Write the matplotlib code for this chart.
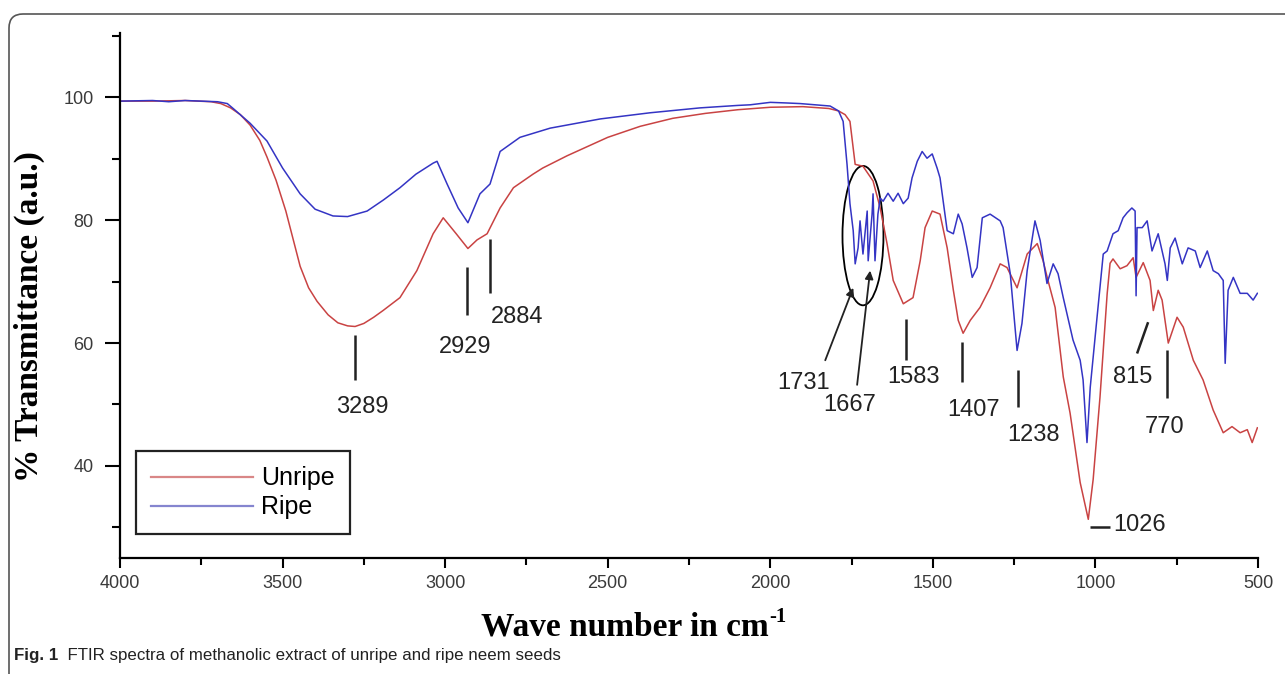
import numpy as np
import matplotlib
matplotlib.use("Agg")
import matplotlib.pyplot as plt
from matplotlib.patches import Ellipse, FancyBboxPatch
from matplotlib.transforms import IdentityTransform

# FTIR spectra (wavenumber in cm-1, % transmittance)
unripe_wn = [4000, 3900, 3800, 3720, 3690, 3660, 3630, 3600, 3570, 3548,
             3520, 3490, 3446, 3420, 3394, 3360, 3330, 3300, 3277, 3250,
             3220, 3191, 3139, 3087, 3037, 3006, 2966, 2930, 2902, 2871,
             2831, 2790, 2730, 2700, 2625, 2500, 2400, 2300, 2200, 2100,
             2000, 1900, 1820, 1790, 1770, 1755, 1739, 1715, 1684, 1662,
             1641, 1622, 1591, 1561, 1539, 1524, 1502, 1478, 1456, 1437,
             1422, 1407, 1385, 1355, 1324, 1293, 1272, 1241, 1210, 1179,
             1161, 1146, 1124, 1099, 1078, 1047, 1022, 1007, 986, 964,
             955, 946, 924, 903, 884, 875, 853, 832, 822, 807,
             795, 776, 749, 730, 699, 669, 638, 607, 580, 555,
             533, 518, 502]
unripe_t = [99.4, 99.4, 99.5, 99.3, 99.0, 98.3, 97.2, 95.5, 93.0, 90.3,
            86.5, 81.5, 72.5, 69.0, 66.8, 64.6, 63.3, 62.8, 62.7, 63.2,
            64.2, 65.3, 67.4, 71.8, 77.8, 80.4, 77.8, 75.4, 76.8, 77.8,
            82.0, 85.3, 87.5, 88.5, 90.5, 93.5, 95.3, 96.6, 97.4, 98.0,
            98.4, 98.5, 98.2, 97.8, 97.2, 96.1, 89.1, 88.8, 86.4, 82.0,
            76.2, 70.2, 66.4, 67.4, 73.4, 78.8, 81.5, 81.0, 75.5, 68.6,
            63.7, 61.6, 63.7, 65.8, 69.0, 72.9, 72.3, 69.0, 74.5, 76.2,
            73.4, 70.2, 65.8, 54.5, 48.6, 37.3, 31.3, 37.8, 51.2, 68.0,
            73.0, 73.7, 72.1, 72.6, 73.9, 70.7, 73.1, 70.2, 65.3, 68.6,
            67.0, 60.0, 64.2, 62.6, 57.2, 54.0, 49.1, 45.4, 46.4, 45.4,
            45.9, 43.8, 46.2]

ripe_wn = [4000, 3900, 3850, 3800, 3750, 3700, 3670, 3652, 3600, 3548,
           3500, 3446, 3400, 3345, 3300, 3240, 3190, 3139, 3090, 3037,
           3025, 2994, 2960, 2930, 2893, 2862, 2831, 2770, 2677, 2523,
           2370, 2216, 2100, 2062, 2000, 1950, 1908, 1816, 1790, 1776,
           1764, 1755, 1745, 1739, 1730, 1724, 1715, 1702, 1699, 1687,
           1684, 1678, 1669, 1662, 1653, 1638, 1622, 1607, 1591, 1576,
           1564, 1548, 1533, 1518, 1502, 1487, 1478, 1456, 1437, 1422,
           1410, 1395, 1379, 1364, 1348, 1324, 1293, 1284, 1262, 1241,
           1226, 1210, 1186, 1170, 1149, 1130, 1115, 1099, 1069, 1047,
           1038, 1026, 1016, 996, 976, 964, 946, 930, 915, 903,
           888, 878, 875, 872, 856, 841, 826, 807, 786, 779,
           770, 755, 733, 715, 693, 678, 656, 638, 622, 607,
           601, 592, 576, 555, 533, 515, 502]
ripe_t = [99.4, 99.5, 99.3, 99.5, 99.4, 99.3, 99.0, 98.2, 95.8, 92.9,
          88.5, 84.3, 81.8, 80.7, 80.6, 81.5, 83.3, 85.3, 87.5, 89.3,
          89.6, 85.9, 82.0, 79.6, 84.3, 85.9, 91.2, 93.5, 95.0, 96.5,
          97.5, 98.3, 98.7, 98.8, 99.2, 99.1, 99.0, 98.6, 97.8, 96.1,
          89.1, 82.7, 78.3, 72.9, 75.5, 79.9, 74.5, 81.5, 73.4, 81.0,
          84.3, 73.4, 81.0, 83.6, 83.1, 84.4, 83.1, 84.4, 82.7, 83.6,
          86.9, 89.6, 91.2, 90.1, 90.8, 88.5, 86.9, 78.3, 77.8, 81.0,
          79.4, 75.5, 70.7, 72.3, 80.4, 81.0, 79.9, 78.8, 71.3, 58.8,
          63.2, 71.8, 79.9, 76.7, 69.7, 72.9, 71.3, 67.4, 60.5, 57.2,
          54.0, 43.8, 52.8, 63.7, 74.5, 75.0, 77.8, 78.3, 80.4, 81.2,
          82.0, 81.5, 67.7, 78.8, 78.8, 79.9, 75.0, 77.8, 72.9, 70.2,
          75.5, 77.1, 72.9, 75.5, 75.0, 72.3, 75.0, 71.8, 71.3, 70.2,
          56.7, 68.6, 70.7, 68.1, 68.1, 67.0, 68.1]

x_ticks = [4000, 3500, 3000, 2500, 2000, 1500, 1000, 500]
y_ticks = [40, 60, 80, 100]

# peak labels: (text, text x, text y) in data units
peak_labels = [("3289", 3256, 49.6), ("2929", 2939, 59.3), ("2884", 2779, 64.2),
               ("1731", 1899, 53.5), ("1667", 1755, 49.9), ("1583", 1561, 54.5),
               ("1407", 1376, 49.1), ("1238", 1192, 45.1), ("815", 884, 54.5),
               ("770", 786, 46.4)]
# short marker lines: (x0, y0, x1, y1)
peak_ticks = [(3277, 61.3, 3277, 54.0), (2933, 72.4, 2933, 64.5),
              (2862, 77.0, 2862, 68.1), (1582, 64.0, 1582, 57.2),
              (1410, 60.1, 1410, 53.6), (1238, 55.6, 1238, 49.6),
              (872, 58.3, 838, 63.4), (779, 58.8, 779, 51.1),
              (1016, 30.1, 955, 30.1)]

RED = '#c94343'
BLUE = '#3434c4'
INK = '#222222'

fig = plt.figure(figsize=(12.85, 6.74), dpi=100)
ax = fig.add_axes([0.0934, 0.1721, 0.8856, 0.779])

ax.plot(unripe_wn, unripe_t, color=RED, lw=1.1, label='Unripe')
ax.plot(ripe_wn, ripe_t, color=BLUE, lw=1.1, label='Ripe')

ax.set_xlim(4000, 500)
ax.set_ylim(25, 110.5)
ax.set_xticks(x_ticks)
ax.set_xticks([3750, 3250, 2750, 2250, 1750, 1250, 750], minor=True)
ax.set_yticks(y_ticks)
ax.set_yticks([30, 50, 70, 90, 110], minor=True)

for side in ['top', 'right']:
    ax.spines[side].set_visible(False)
for side in ['left', 'bottom']:
    ax.spines[side].set_linewidth(1.6)

ax.tick_params(axis='both', which='major', direction='out', width=1.5,
               labelsize=13, labelcolor='#3a3a3a')
ax.tick_params(axis='y', which='major', length=11, pad=8)
ax.tick_params(axis='y', which='minor', length=6, width=1.5)
ax.tick_params(axis='x', which='major', length=7, pad=5)
ax.tick_params(axis='x', which='minor', length=5, width=1.5)
for lab in ax.get_xticklabels() + ax.get_yticklabels():
    lab.set_family('Liberation Sans')

# peak annotations
for txt, tx, ty in peak_labels:
    ax.text(tx, ty, txt, ha='center', va='center', fontsize=17,
            family='Liberation Sans', color=INK)
ax.text(946, 30.4, "1026", ha='left', va='center', fontsize=17,
        family='Liberation Sans', color=INK)
for x0, y0, x1, y1 in peak_ticks:
    ax.plot([x0, x1], [y0, y1], color=INK, lw=1.8, solid_capstyle='butt')

ax.add_patch(Ellipse((1715, 77.5), 126, 22.7, fill=False, ec='black', lw=1.3))
arrow = dict(arrowstyle='-|>', color=INK, lw=1.3, mutation_scale=12,
             shrinkA=0, shrinkB=0)
ax.annotate('', xy=(1745, 69.0), xytext=(1831, 57.2), arrowprops=arrow)
ax.annotate('', xy=(1693, 71.8), xytext=(1733, 53.2), arrowprops=arrow)

leg = ax.legend(loc='lower left', bbox_to_anchor=(0.014, 0.045), borderaxespad=0,
                fancybox=False, edgecolor='#222222', framealpha=1,
                prop={'family': 'Liberation Sans', 'size': 18},
                handlelength=4.1, handletextpad=0.3, borderpad=0.6,
                labelspacing=0.2)
leg.get_frame().set_linewidth(1.6)
for line, col in zip(leg.get_lines(), ['#d98787', '#8585cf']):
    line.set_color(col)
    line.set_linewidth(1.6)

ax.set_ylabel('% Transmittance (a.u.)', family='Liberation Serif',
              fontweight='bold', fontsize=24, labelpad=10)
ax.yaxis.set_label_coords(-0.066, 0.46)
xl = fig.text(0.4865, 0.069, 'Wave number in cm', ha='center', va='center',
              family='Liberation Serif', fontweight='bold', fontsize=24)
ax.annotate('-1', xy=(1, 0.5), xycoords=xl, va='bottom', ha='left',
            family='Liberation Serif', fontweight='bold', fontsize=15,
            annotation_clip=False)

# caption and card border
cap = fig.text(14 / 1285, 0.028, 'Fig. 1', family='Liberation Sans',
               fontweight='bold', fontsize=12.2, va='center', color='#222')
ax.annotate('  FTIR spectra of methanolic extract of unripe and ripe neem seeds',
            xy=(1, 0.5), xycoords=cap, va='center', ha='left',
            family='Liberation Sans', fontsize=12.2,
            color='#222', annotation_clip=False)

border = FancyBboxPatch((9, -40), 1400, 674 - 14 + 40,
                        boxstyle='round,pad=0,rounding_size=14',
                        transform=IdentityTransform(), fill=False,
                        ec='#555555', lw=1.2)
fig.patches.append(border)

fig.savefig('out.png', dpi=100)
